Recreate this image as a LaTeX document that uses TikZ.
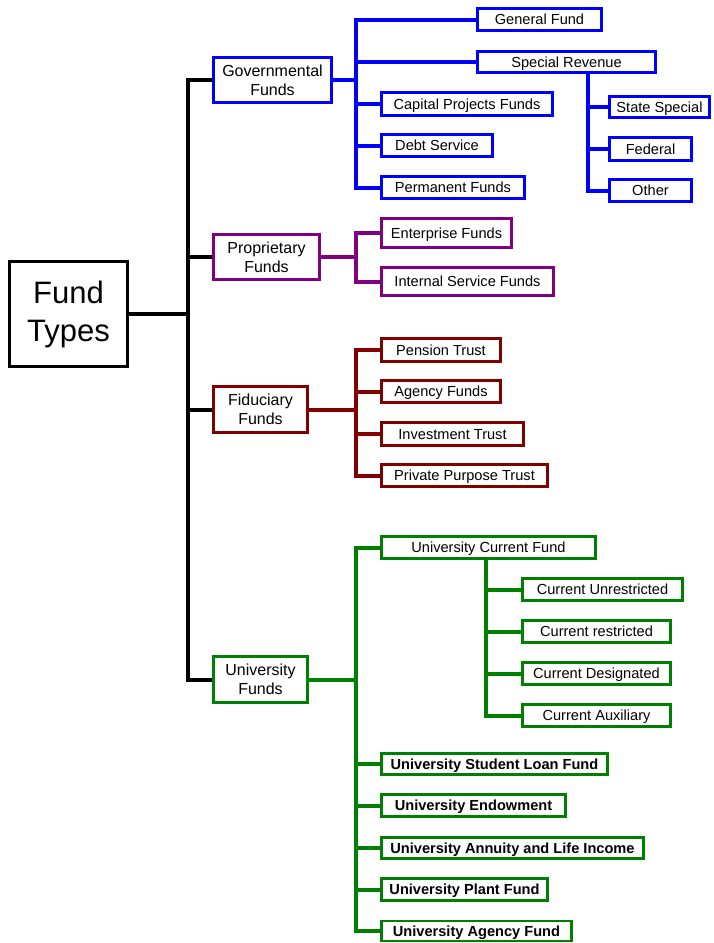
\documentclass[tikz,border=0pt]{standalone}
\usepackage{fontspec}
\setmainfont{Liberation Sans}
\definecolor{cblue}{HTML}{0000FF}
\definecolor{cpurp}{HTML}{800080}
\definecolor{cred}{HTML}{800000}
\definecolor{cgreen}{HTML}{008000}
\begin{document}
\begin{tikzpicture}[x=1pt,y=-1pt,
  box/.style={draw, line width=2.7pt, fill=white, inner sep=0pt, align=center, text=black},
  leaf/.style={box, font=\fontsize{14.6}{17}\selectfont, text height=10.5pt, text depth=0pt},
  bleaf/.style={leaf, font=\fontsize{14.6}{17}\selectfont\bfseries},
  mid/.style={box, font=\fontsize{16}{19}\selectfont},
  conn/.style={line width=4pt, line join=miter}
]
\useasboundingbox (0,0) rectangle (713,943);
\coordinate (tx) at (188,0);
\coordinate (gx) at (356,0);
\coordinate (srx) at (588,0);
\coordinate (ucx) at (486,0);

% root
\node[box, line width=3.3pt, minimum width=118pt, minimum height=105pt, font=\fontsize{31}{38}\selectfont] (ft) at (68.5,314) {Fund\\Types};

% level 1
\node[mid, draw=cblue, minimum width=118pt, minimum height=45pt] (gov) at (272.5,80) {Governmental\\Funds};
\node[mid, draw=cpurp, minimum width=106pt, minimum height=45pt] (prop) at (266.5,257) {Proprietary\\Funds};
\node[mid, draw=cred, minimum width=94pt, minimum height=46pt] (fid) at (260.5,409.5) {Fiduciary\\Funds};
\node[mid, draw=cgreen, minimum width=94pt, minimum height=46pt] (univ) at (260.5,679.5) {University\\Funds};

% governmental
\node[leaf, draw=cblue, minimum width=124pt, minimum height=22pt] (gf) at (539.5,19.5) {General Fund};
\node[leaf, draw=cblue, minimum width=178pt, minimum height=21pt] (sr) at (566.5,62) {Special Revenue};
\node[leaf, draw=cblue, minimum width=171pt, minimum height=23pt] (cp) at (467,104) {Capital Projects Funds};
\node[leaf, draw=cblue, minimum width=111pt, minimum height=22pt] (ds) at (437,145.5) {Debt Service};
\node[leaf, draw=cblue, minimum width=143pt, minimum height=22pt] (pf) at (453,187.5) {Permanent Funds};
\node[leaf, draw=cblue, minimum width=100pt, minimum height=21pt] (ss) at (659.5,107) {State Special};
\node[leaf, draw=cblue, minimum width=82pt, minimum height=23pt] (fed) at (650.5,149) {Federal};
\node[leaf, draw=cblue, minimum width=82pt, minimum height=22pt] (oth) at (650.5,190.5) {Other};

% proprietary
\node[leaf, draw=cpurp, minimum width=130pt, minimum height=29pt] (ent) at (446.5,233) {Enterprise Funds};
\node[leaf, draw=cpurp, minimum width=172pt, minimum height=28pt] (isf) at (467.5,281.5) {Internal Service Funds};

% fiduciary
\node[leaf, draw=cred, minimum width=119pt, minimum height=23pt] (pt) at (441,350) {Pension Trust};
\node[leaf, draw=cred, minimum width=119pt, minimum height=22pt] (af) at (441,391.5) {Agency Funds};
\node[leaf, draw=cred, minimum width=142pt, minimum height=23pt] (it) at (452.5,434) {Investment Trust};
\node[leaf, draw=cred, minimum width=166pt, minimum height=22pt] (pp) at (464.5,475.5) {Private Purpose Trust};

% university
\node[leaf, draw=cgreen, minimum width=214pt, minimum height=22pt] (ucf) at (488.5,547.5) {University Current Fund};
\node[leaf, draw=cgreen, minimum width=160pt, minimum height=22pt] (cu) at (602.5,589.5) {Current Unrestricted};
\node[leaf, draw=cgreen, minimum width=148pt, minimum height=22pt] (cr) at (596.5,631.5) {Current restricted};
\node[leaf, draw=cgreen, minimum width=148pt, minimum height=22pt] (cd) at (596.5,673.5) {Current Designated};
\node[leaf, draw=cgreen, minimum width=148pt, minimum height=22pt] (ca) at (596.5,715.5) {Current Auxiliary};
\node[bleaf, draw=cgreen, minimum width=226pt, minimum height=21pt] (usl) at (494.5,764) {University Student Loan Fund};
\node[bleaf, draw=cgreen, minimum width=184pt, minimum height=22pt] (ue) at (473.5,805.5) {University Endowment};
\node[bleaf, draw=cgreen, minimum width=262pt, minimum height=21pt] (ua) at (512.5,848) {University Annuity and Life Income};
\node[bleaf, draw=cgreen, minimum width=166pt, minimum height=22pt] (up) at (464.5,889.5) {University Plant Fund};
\node[bleaf, draw=cgreen, minimum width=190pt, minimum height=20pt] (uag) at (476.5,931) {University Agency Fund};

% connectors
\draw[conn, black] (ft.east) -- (ft.east -| tx);
\foreach \n in {gov,prop,fid,univ} \draw[conn, black] (ft.east -| tx) |- (\n.west);

\draw[conn, cblue] (gov.east) -- (gov.east -| gx);
\foreach \n in {gf,sr,cp,ds,pf} \draw[conn, cblue] (gov.east -| gx) |- (\n.west);
\foreach \n in {ss,fed,oth} \draw[conn, cblue] (sr.south -| srx) |- (\n.west);

\draw[conn, cpurp] (prop.east) -- (prop.east -| gx);
\foreach \n in {ent,isf} \draw[conn, cpurp] (prop.east -| gx) |- (\n.west);

\draw[conn, cred] (fid.east) -- (fid.east -| gx);
\foreach \n in {pt,af,it,pp} \draw[conn, cred] (fid.east -| gx) |- (\n.west);

\draw[conn, cgreen] (univ.east) -- (univ.east -| gx);
\foreach \n in {ucf,usl,ue,ua,up,uag} \draw[conn, cgreen] (univ.east -| gx) |- (\n.west);
\foreach \n in {cu,cr,cd,ca} \draw[conn, cgreen] (ucf.south -| ucx) |- (\n.west);
\end{tikzpicture}
\end{document}
